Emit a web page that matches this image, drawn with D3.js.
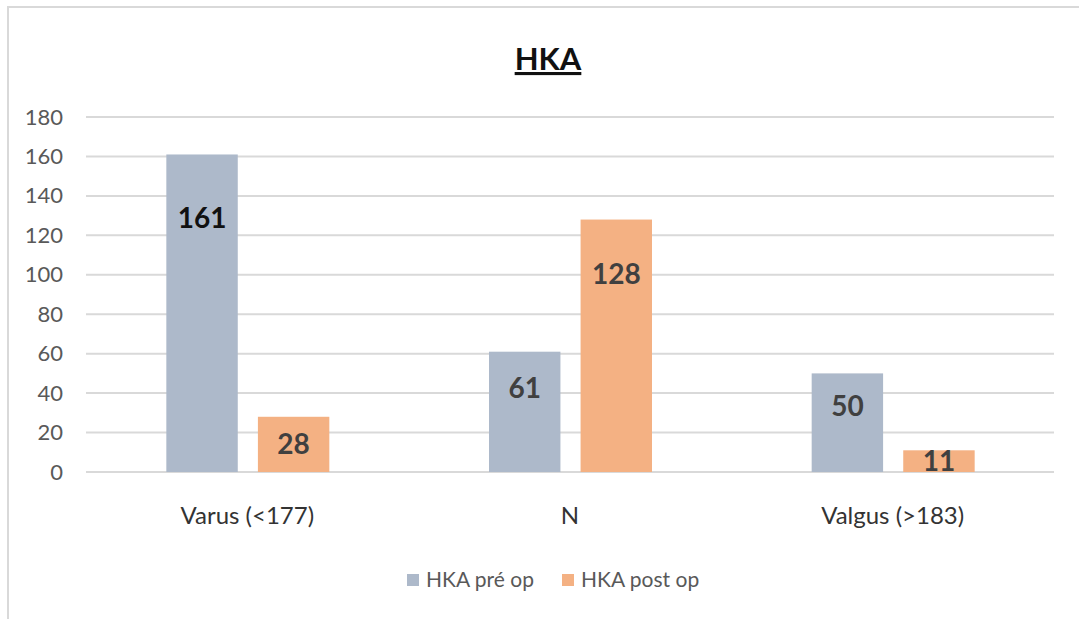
<!DOCTYPE html>
<html>
<head>
<meta charset="utf-8">
<script src="https://cdn.jsdelivr.net/npm/d3@7"></script>
<style>
  body { margin: 0; background: #fff; }
  svg { font-family: Lato, "Open Sans", sans-serif; }
</style>
</head>
<body>
<script>
    var categories = ["Varus (<177)", "N", "Valgus (>183)"];
    var seriesNames = ["HKA pré op", "HKA post op"];
    var preOp = [161, 61, 50];
    var postOp = [28, 128, 11];
    var yTicks = [0, 20, 40, 60, 80, 100, 120, 140, 160, 180];

    var colors = ["#adb9ca", "#f4b183"];

    var W = 1079, H = 619;
    var margin = {top: 117, right: 25, bottom: 147, left: 86};
    var width = W - margin.left - margin.right;
    var height = H - margin.top - margin.bottom;

    var svg = d3.select("body").append("svg")
        .attr("width", W)
        .attr("height", H);

    // chart frame (left and top edges visible)
    svg.append("path")
        .attr("d", "M8,619 L8,7 L1079,7")
        .attr("fill", "none")
        .attr("stroke", "#d9d9d9")
        .attr("stroke-width", 2);

    // title
    svg.append("text")
        .attr("x", 548)
        .attr("y", 70)
        .attr("text-anchor", "middle")
        .style("font-size", "31px")
        .style("font-weight", "bold")
        .style("text-decoration", "underline")
        .attr("fill", "#111")
        .text("HKA");

    var g = svg.append("g")
        .attr("transform", "translate(" + margin.left + "," + margin.top + ")");

    var x0 = d3.scaleBand().domain(categories).range([0, width]).paddingInner(0).paddingOuter(0);
    var x1 = d3.scaleBand().domain(seriesNames).range([0, 163]).paddingInner(0.22);
    var y = d3.scaleLinear().domain([0, 180]).range([height, 0]);

    // gridlines
    g.append("g")
        .selectAll("line")
        .data(yTicks)
        .enter().append("line")
        .attr("x1", 0)
        .attr("x2", width)
        .attr("y1", function(d) { return y(d); })
        .attr("y2", function(d) { return y(d); })
        .attr("stroke", "#d9d9d9")
        .attr("stroke-width", 2);

    // y axis labels
    var yAxis = g.append("g")
        .attr("transform", "translate(-23,0)")
        .call(d3.axisLeft(y).tickValues(yTicks).tickSize(0).tickPadding(0));
    yAxis.select(".domain").remove();
    yAxis.selectAll("text")
        .style("font-size", "22px")
        .style("font-family", "Lato, 'Open Sans', sans-serif")
        .attr("fill", "#595959");

    // x axis labels
    var xAxis = g.append("g")
        .attr("transform", "translate(0," + height + ")")
        .call(d3.axisBottom(x0).tickSize(0).tickPadding(35));
    xAxis.select(".domain").remove();
    xAxis.selectAll("text")
        .style("font-size", "24px")
        .style("font-family", "Lato, 'Open Sans', sans-serif")
        .attr("fill", "#333");

    var rows = categories.map(function(c, i) {
        return {cat: c, values: [
            {s: seriesNames[0], v: preOp[i], idx: 0},
            {s: seriesNames[1], v: postOp[i], idx: 1}
        ]};
    });

    var groups = g.selectAll(".grp")
        .data(rows)
        .enter().append("g")
        .attr("class", "grp")
        .attr("transform", function(d) {
            return "translate(" + (x0(d.cat) + x0.bandwidth() / 2 - 81) + ",0)";
        });

    groups.selectAll("rect")
        .data(function(d) { return d.values; })
        .enter().append("rect")
        .attr("x", function(d) { return x1(d.s); })
        .attr("y", function(d) { return y(d.v); })
        .attr("width", x1.bandwidth())
        .attr("height", function(d) { return height - y(d.v); })
        .attr("fill", function(d) { return colors[d.idx]; });

    groups.selectAll(".lbl")
        .data(function(d, i) {
            return d.values.map(function(v) { return Object.assign({gi: i}, v); });
        })
        .enter().append("text")
        .attr("class", "lbl")
        .attr("x", function(d) { return x1(d.s) + x1.bandwidth() / 2; })
        .attr("y", function(d) {
            var h = height - y(d.v);
            return y(d.v) + Math.min(h / 2, 19 + 0.14 * h);
        })
        .attr("dy", "0.36em")
        .attr("text-anchor", "middle")
        .style("font-size", "28px")
        .style("font-weight", "bold")
        .attr("fill", function(d) { return (d.gi === 0 && d.idx === 0) ? "#111" : "#404040"; })
        .text(function(d) { return d.v; });

    // legend
    var legend = svg.append("g").attr("transform", "translate(407,580)");
    var legX = [0, 155];
    seriesNames.forEach(function(s, i) {
        var lg = legend.append("g").attr("transform", "translate(" + legX[i] + ",0)");
        lg.append("rect")
            .attr("x", 0).attr("y", -6)
            .attr("width", 12).attr("height", 12)
            .attr("fill", colors[i]);
        lg.append("text")
            .attr("x", 19).attr("y", 0)
            .attr("dy", "0.35em")
            .style("font-size", "21px")
            .attr("fill", "#595959")
            .text(s);
    });
</script>
</body>
</html>
